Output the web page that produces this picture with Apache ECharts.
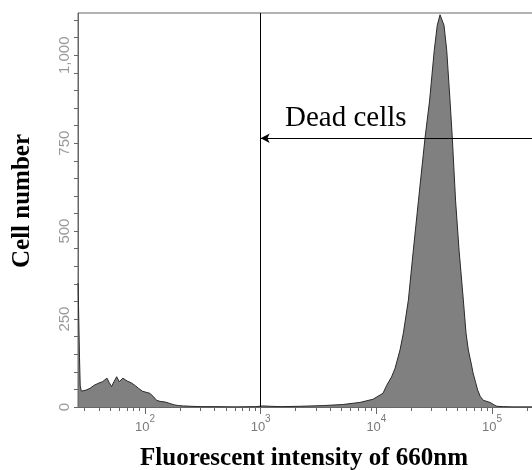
<!DOCTYPE html>
<html><head><meta charset="utf-8">
<script src="https://cdn.jsdelivr.net/npm/echarts@6/dist/echarts.min.js"></script>
<style>html,body{margin:0;padding:0;background:#fff}#c{width:532px;height:470px}</style>
</head><body><div id="c"></div>
<script>
// Fluorescent intensity (x, log scale) and cell counts (y)
const intensity = [26.45, 26.8, 27.2, 27.6, 28.2, 29.1, 31, 33.5, 36.5, 40, 43, 47, 49, 51.5, 54, 57, 60, 64.5, 70, 76, 83, 88, 95, 102, 110, 118, 126, 135, 150, 164, 180, 195, 215, 250, 300, 400, 600, 900, 1050, 1200, 1500, 2200, 3500, 5100, 7200, 9350, 11400, 12300, 13500, 14500, 16000, 17100, 18900, 20860, 23120, 26300, 28800, 31630, 33570, 35480, 36560, 38400, 40530, 43300, 45300, 48300, 51800, 56400, 59500, 62300, 66700, 68400, 72000, 75000, 79000, 84000, 96000, 104000, 110000, 125000, 150000, 269000];
const cellCount = [352, 250, 140, 60, 45, 43, 48, 53, 62, 68, 72, 82, 70, 58, 72, 86, 72, 82, 74, 69, 60, 53, 45, 42, 39, 30, 19, 16, 14, 10, 6, 4, 3, 2, 1, 1, 0, 1, 3, 2, 1, 2, 4, 7, 13, 22, 39, 62, 85, 110, 162, 210, 304, 446, 588, 764, 870, 1014, 1085, 1115, 1110, 1085, 1014, 870, 764, 588, 446, 304, 210, 162, 116, 97, 70, 48, 30, 19, 13, 6, 2, 1, 0, 0];
const xMajorTicks = [100, 1000, 10000, 100000];
const xMinorTicks = [30, 40, 50, 60, 70, 80, 90, 200, 300, 400, 500, 600, 700, 800, 900, 2000, 3000, 4000, 5000, 6000, 7000, 8000, 9000, 20000, 30000, 40000, 50000, 60000, 70000, 80000, 90000, 200000];
const yTickValues = [0, 50, 100, 150, 200, 250, 300, 350, 400, 450, 500, 550, 600, 650, 700, 750, 800, 850, 900, 950, 1000, 1050, 1100];
const yLabelValues = [0, 250, 500, 750, 1000];
const gateValue = 1000;      // vertical gate line
const arrowLevel = 764;      // height of "Dead cells" arrow
const xMin = 26.4, xMax = 269800, yMax = 1120;

const seriesData = intensity.map((v, i) => [v, cellCount[i]]);
const chart = echarts.init(document.getElementById('c'), null, {renderer: 'canvas'});
const axisGray = '#666';
chart.setOption({
  animation: false,
  backgroundColor: '#fff',
  grid: {left: 78, top: 13, right: -10, bottom: 63, outerBoundsMode: 'none', containLabel: false, show: true, borderColor: axisGray, borderWidth: 1, backgroundColor: 'transparent'},
  xAxis: [{
    type: 'log', logBase: 10, min: xMin, max: xMax,
    axisLine: {lineStyle: {color: axisGray, width: 1}},
    axisTick: {customValues: xMajorTicks, length: 7, lineStyle: {color: axisGray}},
    axisLabel: {
      customValues: xMajorTicks, margin: 7,
      formatter: v => '{b|10}{s|' + Math.round(Math.log10(v)) + '}',
      rich: {
        b: {fontFamily: 'Liberation Sans', fontSize: 13, color: '#7a7a7a', lineHeight: 20, verticalAlign: 'bottom'},
        s: {fontFamily: 'Liberation Sans', fontSize: 10, color: '#7a7a7a', lineHeight: 20, verticalAlign: 'top'}
      }
    },
    splitLine: {show: false}
  }, {
    type: 'log', logBase: 10, min: xMin, max: xMax, position: 'bottom',
    axisLine: {show: false},
    axisTick: {customValues: xMinorTicks, length: 4, lineStyle: {color: axisGray}},
    axisLabel: {show: false},
    splitLine: {show: false}
  }],
  yAxis: {
    type: 'value', min: 0, max: yMax,
    axisLine: {show: true, lineStyle: {color: axisGray}},
    axisTick: {show: true, customValues: yTickValues, length: 4, lineStyle: {color: axisGray}},
    axisLabel: {
      customValues: yLabelValues, rotate: 90, margin: 6,
      fontFamily: 'Liberation Sans Narrow, Liberation Sans', fontSize: 15, color: '#999',
      formatter: v => v.toLocaleString('en-US')
    },
    splitLine: {show: false}
  },
  series: [{
    type: 'line', data: seriesData, xAxisIndex: 0, showSymbol: false, symbol: 'none',
    lineStyle: {color: '#2a2a2a', width: 1},
    areaStyle: {color: '#808080', opacity: 1},
    markLine: {
      silent: true, animation: false,
      label: {show: false},
      lineStyle: {color: '#000', width: 1, type: 'solid'},
      symbol: 'none',
      data: [
        [{coord: [gateValue, 0], symbol: 'none'}, {coord: [gateValue, yMax], symbol: 'none'}],
        [{coord: [gateValue, arrowLevel], symbol: 'arrow', symbolSize: [7, 9]}, {coord: [xMax, arrowLevel], symbol: 'none'}]
      ]
    }
  }],
  graphic: [
    {type: 'text', left: 285, top: 104, style: {text: 'Dead cells', fontFamily: 'Liberation Serif', fontSize: 29, fill: '#000'}},
    {type: 'text', x: 304, y: 459, style: {text: 'Fluorescent intensity of 660nm', fontFamily: 'Liberation Serif', fontWeight: 'bold', fontSize: 25, fill: '#000', align: 'center', verticalAlign: 'middle'}},
    {type: 'text', x: 23, y: 201, rotation: Math.PI / 2, style: {text: 'Cell number', fontFamily: 'Liberation Serif', fontWeight: 'bold', fontSize: 25, fill: '#000', align: 'center', verticalAlign: 'middle'}}
  ]
});
</script></body></html>
